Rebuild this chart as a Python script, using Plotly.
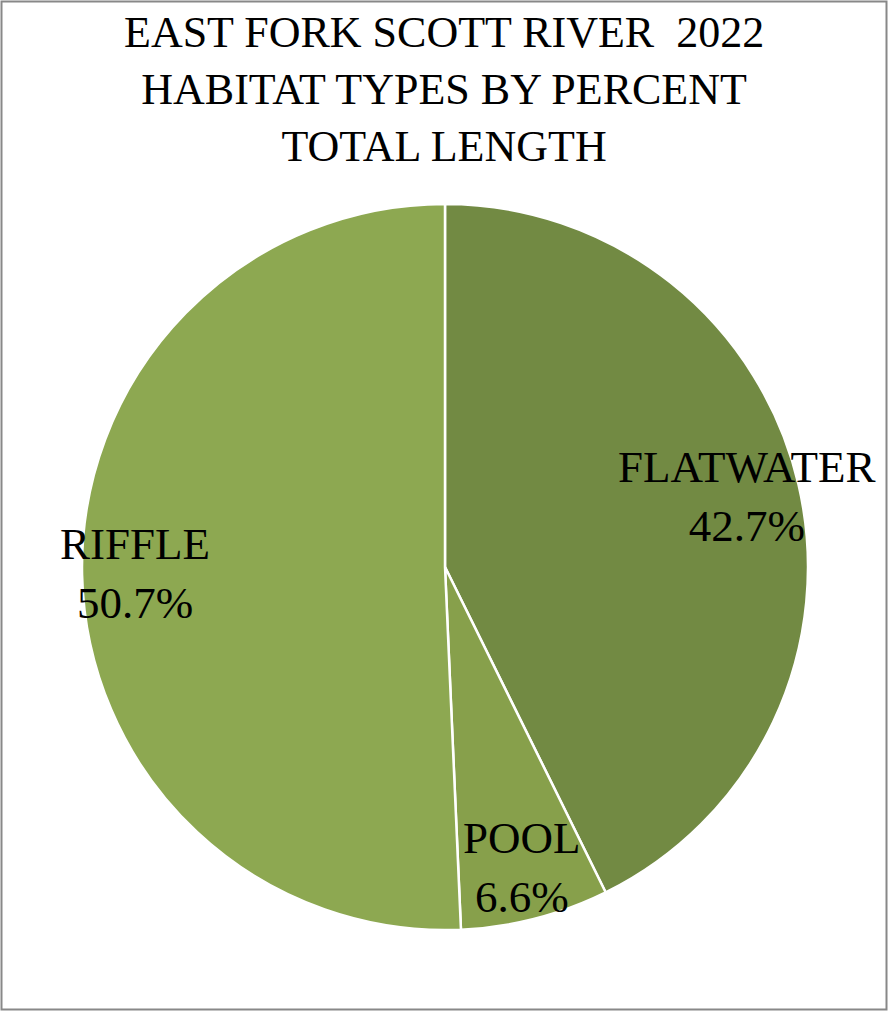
import math
import plotly.graph_objects as go

# Habitat types, clockwise from 12 o'clock
habitats = ["FLATWATER", "POOL", "RIFFLE"]
percents = [42.7, 6.6, 50.7]
colors = ["#728A43", "#87A04B", "#8DA851"]

W, H = 888, 1011
cx, cy, R = 445, 567, 363          # pie centre / radius in pixels
label_frac = 0.855                  # radial position of the slice labels

dom_x = [(cx - R) / W, (cx + R) / W]
dom_y = [(H - cy - R) / H, (H - cy + R) / H]

fig = go.Figure(go.Pie(
    labels=habitats,
    values=percents,
    sort=False,
    direction="clockwise",
    rotation=0,
    marker=dict(colors=colors, line=dict(color="white", width=2.5)),
    textinfo="none",
    hoverinfo="label+percent",
    domain=dict(x=dom_x, y=dom_y),
    showlegend=False,
))

# Slice labels placed along each slice's mid-angle
total = sum(percents)
start = 0.0
annotations = []
for name, pct in zip(habitats, percents):
    mid = (start + pct / 2) / total * 2 * math.pi
    start += pct
    px = cx + label_frac * R * math.sin(mid)
    py = cy - label_frac * R * math.cos(mid)
    annotations.append(dict(
        x=px / W, y=1 - py / H, xref="paper", yref="paper",
        text=f"{name}<br>{pct:.1f}%", showarrow=False,
        xanchor="center", yanchor="middle", align="center",
        font=dict(family="Liberation Serif", size=45, color="black"),
    ))

# Chart title
annotations.append(dict(
    x=0.5, y=1 - 6 / H, xref="paper", yref="paper",
    text="EAST FORK SCOTT RIVER  2022<br>HABITAT TYPES BY PERCENT<br>TOTAL LENGTH",
    showarrow=False, xanchor="center", yanchor="top", align="center",
    font=dict(family="Liberation Serif", size=44, color="black"),
))

fig.update_layout(
    width=W, height=H,
    margin=dict(l=0, r=0, t=0, b=0),
    paper_bgcolor="white",
    annotations=annotations,
    shapes=[dict(
        type="rect", xref="paper", yref="paper",
        x0=1.5 / W, x1=1 - 1.5 / W, y0=1.5 / H, y1=1 - 1.5 / H,
        line=dict(color="#888888", width=2), fillcolor="rgba(0,0,0,0)",
    )],
)

fig.write_html("out.html")
